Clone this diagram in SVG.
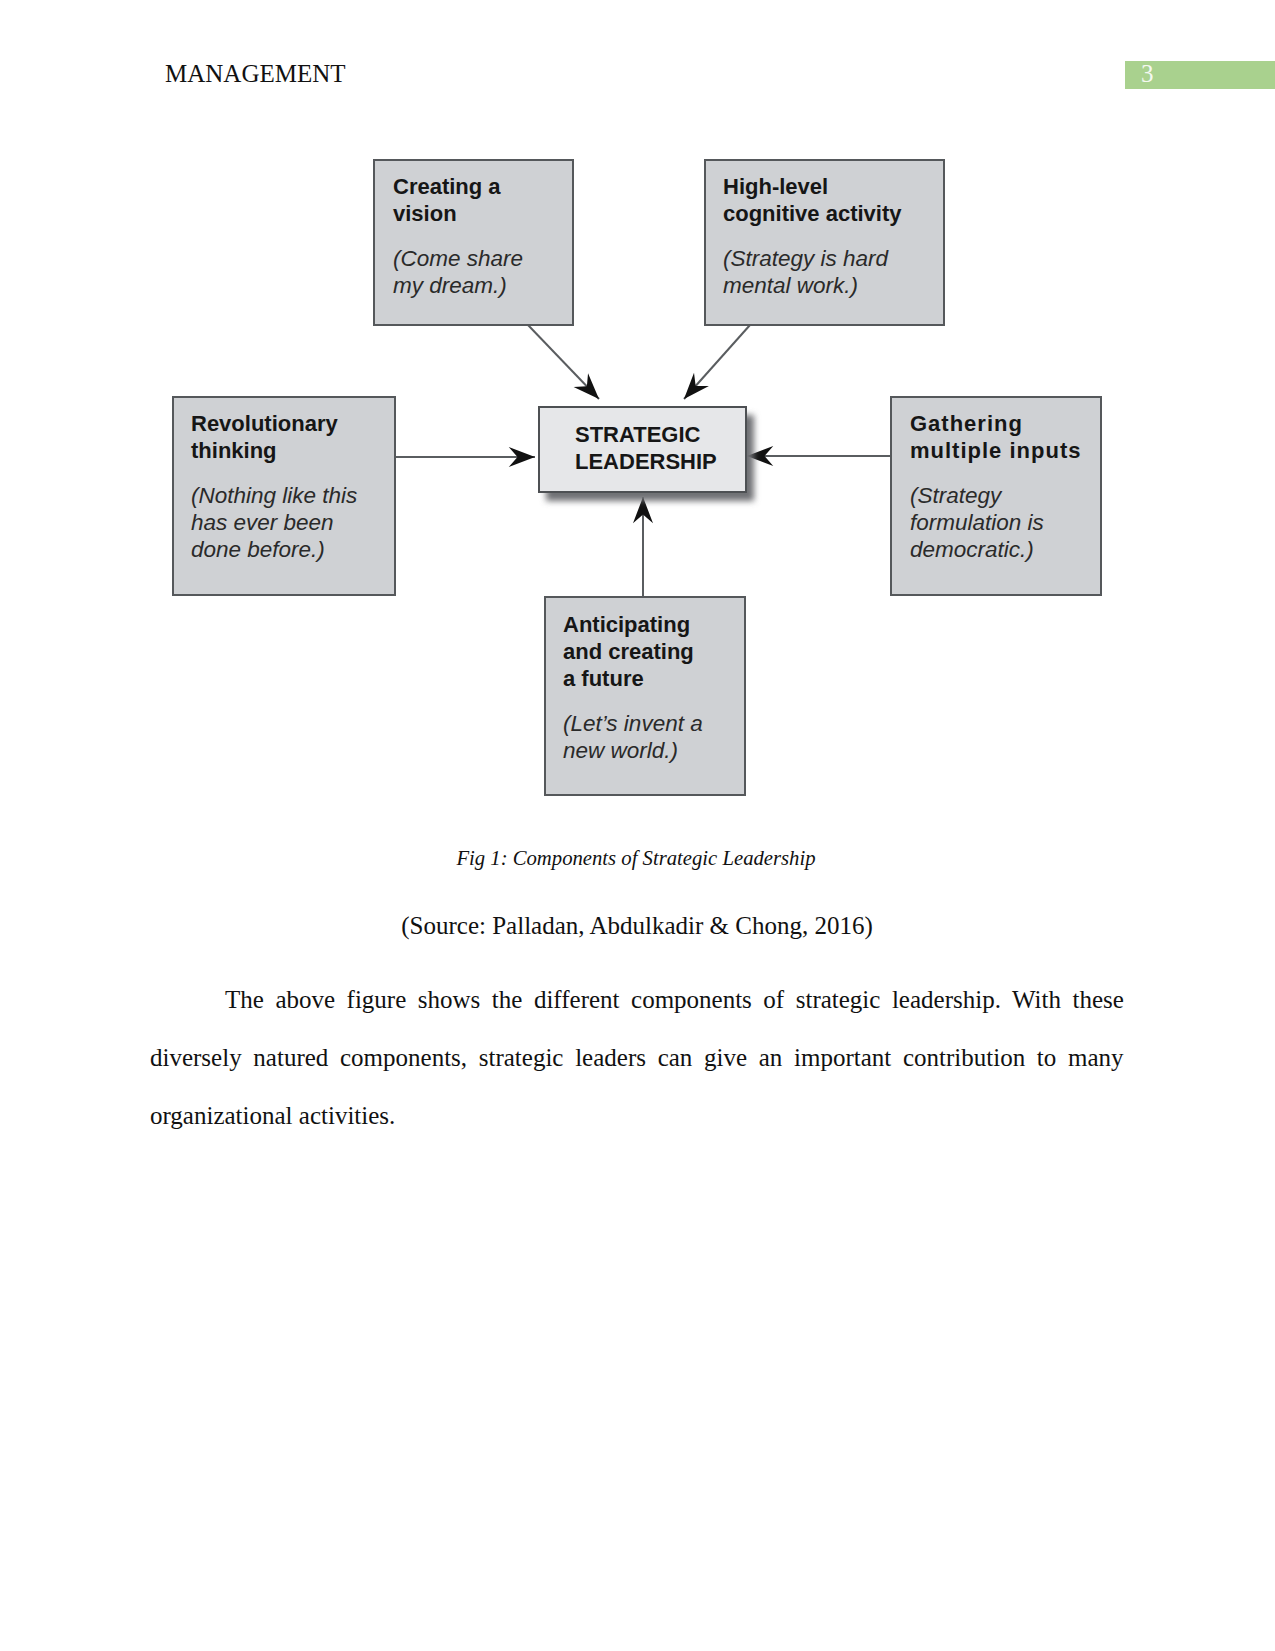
<svg xmlns="http://www.w3.org/2000/svg" width="1275" height="1651" viewBox="0 0 1275 1651">
<defs>
<style>
.box{fill:#cfd1d4;stroke:#55585b;stroke-width:2}
.cbox{fill:#e6e7e9;stroke:#4d5053;stroke-width:2}
.b{font-family:"Liberation Sans",Arial,sans-serif;font-weight:bold;font-size:22px;fill:#161616}
.i{font-family:"Liberation Sans",Arial,sans-serif;font-style:italic;font-size:22.5px;fill:#2a2a2a}
.c{font-family:"Liberation Sans",Arial,sans-serif;font-weight:bold;font-size:22px;fill:#161616}
.conn{stroke:#5a5d60;stroke-width:2;fill:none}
.serif{font-family:"Liberation Serif","Times New Roman",serif;font-size:25px;fill:#111}
</style>
<marker id="ah" markerUnits="userSpaceOnUse" markerWidth="30" markerHeight="30" viewBox="-22 -10 24 20" refX="0" refY="0" orient="auto">
<path d="M0,0 L-21,-8 L-14,0 L-21,8 Z" fill="#111"/>
</marker>
<filter id="sh" x="-20%" y="-20%" width="150%" height="160%">
<feGaussianBlur stdDeviation="3"/>
</filter>
</defs>
<rect width="1275" height="1651" fill="#fff"/>
<g id="header">
<text class="serif" x="165" y="82">MANAGEMENT</text>
<rect x="1125" y="61" width="150" height="28" fill="#a9d18e"/>
<text class="serif" x="1141" y="82" style="fill:#f4f8f0">3</text>
</g>
<g id="connectors">
<line class="conn" x1="528" y1="325" x2="599" y2="399" marker-end="url(#ah)"/>
<line class="conn" x1="750" y1="325" x2="684" y2="399" marker-end="url(#ah)"/>
<line class="conn" x1="396" y1="457" x2="535" y2="457" marker-end="url(#ah)"/>
<line class="conn" x1="891" y1="456" x2="747" y2="456" marker-end="url(#ah)"/>
<line class="conn" x1="643" y1="597" x2="643" y2="497" marker-end="url(#ah)"/>
</g>
<g id="node-vision">
<rect class="box" x="374" y="160" width="199" height="165"/>
<text class="b" x="393" y="194">Creating a</text>
<text class="b" x="393" y="221">vision</text>
<text class="i" x="393" y="266">(Come share</text>
<text class="i" x="393" y="293">my dream.)</text>
</g>
<g id="node-cognitive">
<rect class="box" x="705" y="160" width="239" height="165"/>
<text class="b" x="723" y="194">High-level</text>
<text class="b" x="723" y="221">cognitive activity</text>
<text class="i" x="723" y="266">(Strategy is hard</text>
<text class="i" x="723" y="293">mental work.)</text>
</g>
<g id="node-revolutionary">
<rect class="box" x="173" y="397" width="222" height="198"/>
<text class="b" x="191" y="431">Revolutionary</text>
<text class="b" x="191" y="458">thinking</text>
<text class="i" x="191" y="503">(Nothing like this</text>
<text class="i" x="191" y="530">has ever been</text>
<text class="i" x="191" y="557">done before.)</text>
</g>
<g id="node-strategic">
<rect x="546" y="415" width="208" height="86" fill="#6f7174" filter="url(#sh)"/>
<rect class="cbox" x="539" y="407" width="207" height="85"/>
<text class="c" x="575" y="442">STRATEGIC</text>
<text class="c" x="575" y="469">LEADERSHIP</text>
</g>
<g id="node-gathering">
<rect class="box" x="891" y="397" width="210" height="198"/>
<text class="b" x="910" y="431" style="letter-spacing:1px">Gathering</text>
<text class="b" x="910" y="458" style="letter-spacing:1px">multiple inputs</text>
<text class="i" x="910" y="503">(Strategy</text>
<text class="i" x="910" y="530">formulation is</text>
<text class="i" x="910" y="557">democratic.)</text>
</g>
<g id="node-future">
<rect class="box" x="545" y="597" width="200" height="198"/>
<text class="b" x="563" y="632">Anticipating</text>
<text class="b" x="563" y="659">and creating</text>
<text class="b" x="563" y="686">a future</text>
<text class="i" x="563" y="731">(Let’s invent a</text>
<text class="i" x="563" y="758">new world.)</text>
</g>
<g id="caption">
<text x="636" y="865" text-anchor="middle" style="font-family:'Liberation Serif','Times New Roman',serif;font-style:italic;font-size:20.7px;fill:#111">Fig 1: Components of Strategic Leadership</text>
<text class="serif" x="637" y="934" text-anchor="middle">(Source: Palladan, Abdulkadir &amp; Chong, 2016)</text>
</g>
<g id="body">
<text class="serif" x="225" y="1008" word-spacing="5.27">The above figure shows the different components of strategic leadership. With these</text>
<text class="serif" x="150" y="1066" word-spacing="5.45">diversely natured components, strategic leaders can give an important contribution to many</text>
<text class="serif" x="150" y="1124">organizational activities.</text>
</g>
</svg>
